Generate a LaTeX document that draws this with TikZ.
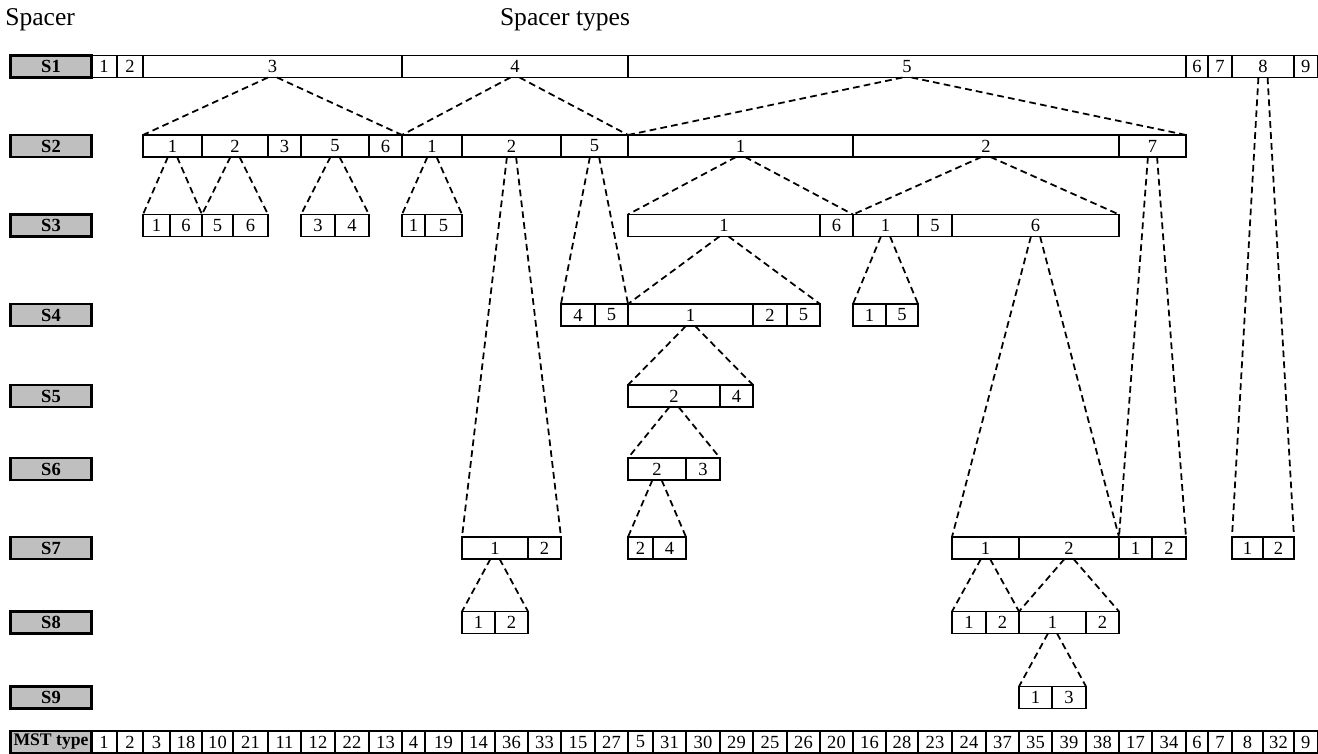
\documentclass[tikz,border=0pt]{standalone}
\usepackage{fontspec}
\setmainfont{Liberation Serif}
\begin{document}
\begin{tikzpicture}[x=0.5669pt, y=-0.5669pt]
\tikzset{
  cellbox/.style={draw, line width=0.95pt, inner sep=0pt, outer sep=0pt,
    minimum height=12.5pt, font=\fontsize{10.5}{12}\selectfont},
  labbox/.style={draw, line width=1.6pt, fill=black!25, inner sep=0pt, outer sep=0pt,
    minimum height=12.5pt, minimum width=45.6pt, font=\fontsize{10.5}{12}\selectfont\bfseries},
  dline/.style={dash pattern=on 3.8pt off 2.4pt, line width=1pt},
  head/.style={inner sep=0pt, font=\fontsize{14.5}{17}\selectfont}
}
% one cell spanning x1..x2 on the row centred at y
\newcommand\cellat[5]{\node[cellbox, minimum width={(#3-#2)*0.5669pt}] (#1) at ({(#2+#3)/2},#4) {#5};}
% dashed fan from a parent cell to the first and last cell of its group
\newcommand\fan[3]{%
  \draw[dline] ([xshift=-2.6pt]#1.south) -- (#2.north west);
  \draw[dline] ([xshift=2.6pt]#1.south) -- (#3.north east);}

\useasboundingbox (0,0) rectangle (1318,753);

% headings
\node[head, anchor=west] (hs) at (5,20) {Spacer};
\node[head] (ht) at (565,20) {Spacer types};

% row labels
\node[labbox] (L1) at (51,66.5) {S1};
\node[labbox] (L2) at (51,146) {S2};
\node[labbox] (L3) at (51,225.5) {S3};
\node[labbox] (L4) at (51,315) {S4};
\node[labbox] (L5) at (51,396) {S5};
\node[labbox] (L6) at (51,469) {S6};
\node[labbox] (L7) at (51,548) {S7};
\node[labbox] (L8) at (51,622.5) {S8};
\node[labbox] (L9) at (51,697.5) {S9};
\node[labbox, font=\fontsize{10}{12}\selectfont\bfseries] (LM) at (51,742) {MST type};

% S1
\cellat{a1}{91}{117}{66.5}{1}
\cellat{a2}{117}{143}{66.5}{2}
\cellat{a3}{143}{402}{66.5}{3}
\cellat{a4}{402}{628}{66.5}{4}
\cellat{a5}{628}{1186}{66.5}{5}
\cellat{a6}{1186}{1208}{66.5}{6}
\cellat{a7}{1208}{1232}{66.5}{7}
\cellat{a8}{1232}{1294}{66.5}{8}
\cellat{a9}{1294}{1317.5}{66.5}{9}

% S2
\cellat{b1}{143}{202}{146}{1}
\cellat{b2}{202}{268}{146}{2}
\cellat{b3}{268}{301}{146}{3}
\cellat{b4}{301}{369}{146}{5}
\cellat{b5}{369}{402}{146}{6}
\cellat{b6}{402}{462}{146}{1}
\cellat{b7}{462}{561}{146}{2}
\cellat{b8}{561}{628}{146}{5}
\cellat{b9}{628}{853}{146}{1}
\cellat{b10}{853}{1119}{146}{2}
\cellat{b11}{1119}{1186}{146}{7}

% S3
\cellat{c1}{143}{170}{225.5}{1}
\cellat{c2}{170}{202}{225.5}{6}
\cellat{c3}{202}{233}{225.5}{5}
\cellat{c4}{233}{268}{225.5}{6}
\cellat{c5}{301}{335}{225.5}{3}
\cellat{c6}{335}{369}{225.5}{4}
\cellat{c7}{402}{425}{225.5}{1}
\cellat{c8}{425}{462}{225.5}{5}
\cellat{c9}{628}{820}{225.5}{1}
\cellat{c10}{820}{853}{225.5}{6}
\cellat{c11}{853}{918}{225.5}{1}
\cellat{c12}{918}{952}{225.5}{5}
\cellat{c13}{952}{1119}{225.5}{6}

% S4
\cellat{d1}{561}{595}{315}{4}
\cellat{d2}{595}{628}{315}{5}
\cellat{d3}{628}{753}{315}{1}
\cellat{d4}{753}{787}{315}{2}
\cellat{d5}{787}{820}{315}{5}
\cellat{d6}{853}{886}{315}{1}
\cellat{d7}{886}{918}{315}{5}

% S5
\cellat{e1}{628}{720}{396}{2}
\cellat{e2}{720}{753}{396}{4}

% S6
\cellat{f1}{628}{686}{469}{2}
\cellat{f2}{686}{720}{469}{3}

% S7
\cellat{g1}{462}{528}{548}{1}
\cellat{g2}{528}{561}{548}{2}
\cellat{g3}{628}{653}{548}{2}
\cellat{g4}{653}{686}{548}{4}
\cellat{g5}{952}{1019}{548}{1}
\cellat{g6}{1019}{1119}{548}{2}
\cellat{g7}{1119}{1152}{548}{1}
\cellat{g8}{1152}{1186}{548}{2}
\cellat{g9}{1232}{1263}{548}{1}
\cellat{g10}{1263}{1294}{548}{2}

% S8
\cellat{h1}{462}{495}{622.5}{1}
\cellat{h2}{495}{528}{622.5}{2}
\cellat{h3}{952}{986}{622.5}{1}
\cellat{h4}{986}{1019}{622.5}{2}
\cellat{h5}{1019}{1086}{622.5}{1}
\cellat{h6}{1086}{1119}{622.5}{2}

% S9
\cellat{i1}{1019}{1052}{697.5}{1}
\cellat{i2}{1052}{1086}{697.5}{3}

% MST types
\foreach \xa/\xb/\t [count=\k] in {
  91/117/1, 117/143/2, 143/170/3, 170/202/18, 202/233/10, 233/268/21,
  268/301/11, 301/335/12, 335/369/22, 369/402/13, 402/425/4, 425/462/19,
  462/495/14, 495/528/36, 528/561/33, 561/595/15, 595/628/27, 628/653/5,
  653/686/31, 686/720/30, 720/753/29, 753/787/25, 787/820/26, 820/853/20,
  853/886/16, 886/918/28, 918/952/23, 952/986/24, 986/1019/37, 1019/1052/35,
  1052/1086/39, 1086/1119/38, 1119/1152/17, 1152/1186/34, 1186/1208/6,
  1208/1232/7, 1232/1263/8, 1263/1294/32, 1294/1317.5/9}
  {\cellat{m\k}{\xa}{\xb}{742}{\t}}

% dashed fans from each spacer to its subdivision
\fan{a3}{b1}{b5}
\fan{a4}{b6}{b8}
\fan{a5}{b9}{b11}
\fan{a8}{g9}{g10}
\fan{b1}{c1}{c2}
\fan{b2}{c3}{c4}
\fan{b4}{c5}{c6}
\fan{b6}{c7}{c8}
\fan{b7}{g1}{g2}
\fan{b8}{d1}{d2}
\fan{b9}{c9}{c10}
\fan{b10}{c11}{c13}
\fan{b11}{g7}{g8}
\fan{c9}{d3}{d5}
\fan{c11}{d6}{d7}
\fan{c13}{g5}{g6}
\fan{d3}{e1}{e2}
\fan{e1}{f1}{f2}
\fan{f1}{g3}{g4}
\fan{g1}{h1}{h2}
\fan{g5}{h3}{h4}
\fan{g6}{h5}{h6}
\fan{h5}{i1}{i2}
\end{tikzpicture}
\end{document}
